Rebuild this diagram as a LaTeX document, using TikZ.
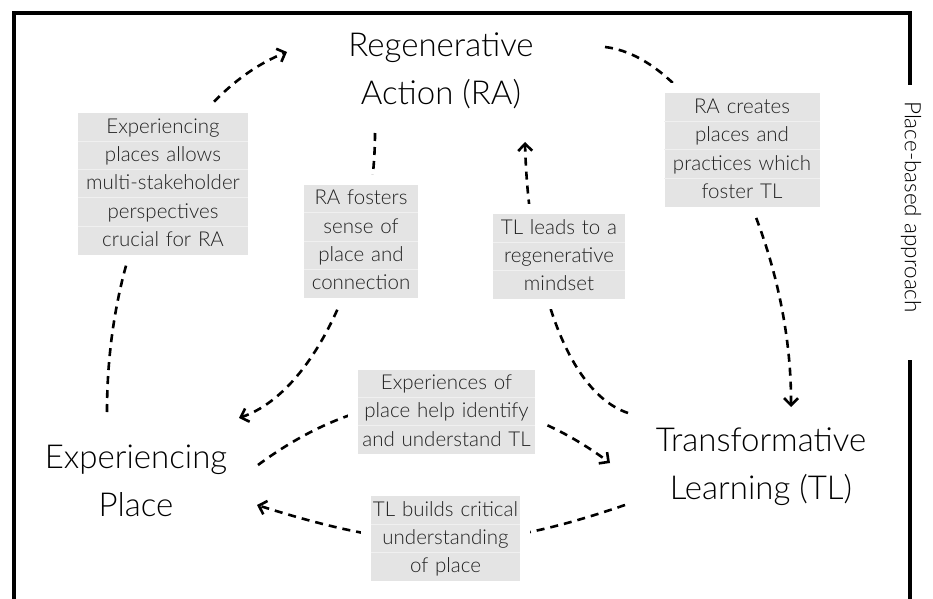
\documentclass[tikz,border=0pt]{standalone}
\usepackage{fontspec}
\setmainfont{Lato}
\newfontfamily\titlefont{Lato Light}
\usetikzlibrary{arrows.meta,calc}
\definecolor{boxfill}{HTML}{E4E4E4}
\definecolor{boxsep}{HTML}{F0F0F0}
\definecolor{boxtext}{HTML}{222222}
\newcommand{\rs}{\rule[-8.2bp]{0pt}{28.3bp}}
\begin{document}
\begin{tikzpicture}[x=1bp,y=-1bp,
  title/.style={font=\titlefont\fontsize{33bp}{48bp}\selectfont, align=center, inner sep=0pt, text=black},
  lbl/.style={fill=boxfill, text=boxtext, font=\titlefont\fontsize{20.5bp}{28.3bp}\selectfont, align=center, inner sep=0pt, preaction={draw=white, line width=20bp}},
  sepline/.style={draw=boxsep, line width=1bp},
  conn/.style={line width=2.6bp, dash pattern=on 8bp off 6bp, -{Straight Barb[length=7bp,width=14bp]}},
  frame/.style={line width=4bp},
]
\useasboundingbox (0,0) rectangle (933,599);
\fill[white] (0,0) rectangle (933,599);

% main concepts
\node[title] (RA) at (441,71) {Regenerative\\Action (RA)};
\node[title] (EP) at (136,481) {Experiencing\\Place};
\node[title] (TL) at (761,467) {Transformative\\Learning (TL)};

% connectors
\draw[conn] ($(EP)+(-29,-69)$) .. controls +(0,-180) and +(-100,40) .. ($(RA)+(-154,-19)$);
\draw[conn] ($(RA)+(164,-24)$) .. controls +(95,11) and +(1,-167) .. ($(TL)+(30,-60)$);
\draw[conn] ($(RA)+(-66,62)$) .. controls +(0,117) and +(81,-28) .. ($(EP)+(103,-63)$);
\draw[conn] ($(TL)+(-133,-54)$) .. controls +(-68,-23) and +(3,118) .. ($(RA)+(84,71)$);
\draw[conn] ($(EP)+(122,-16)$) .. controls +(142,-105) and +(-85,-63) .. ($(TL)+(-151,-4)$);
\draw[conn] ($(TL)+(-136,38)$) .. controls +(-140,48) and +(152,48) .. ($(EP)+(121,24)$);

% label boxes
\node[lbl, text width=170bp] (b1) at (163,184) {\rs Experiencing\\\rs places allows\\\rs multi-stakeholder\\\rs perspectives\\\rs crucial for RA};
\node[lbl, text width=114bp] (b2) at (361,241.5) {\rs RA fosters\\\rs sense of\\\rs place and\\\rs connection};
\node[lbl, text width=132bp] (b3) at (559,256.5) {\rs TL leads to a\\\rs regenerative\\\rs mindset};
\node[lbl, text width=155bp] (b4) at (742,150) {\rs RA creates\\\rs places and\\\rs practices which\\\rs foster TL};
\node[lbl, text width=177bp] (b5) at (446.5,412) {\rs Experiences of\\\rs place help identify\\\rs and understand TL};
\node[lbl, text width=149bp] (b6) at (445.5,538.5) {\rs TL builds critical\\\rs understanding\\\rs of place};

\foreach \k in {1,...,4} \draw[sepline] ($(b1.north west)+(0,{\k*28.3})$) -- ($(b1.north east)+(0,{\k*28.3})$);
\foreach \k in {1,...,3} \draw[sepline] ($(b2.north west)+(0,{\k*28.3})$) -- ($(b2.north east)+(0,{\k*28.3})$);
\foreach \k in {1,2} \draw[sepline] ($(b3.north west)+(0,{\k*28.3})$) -- ($(b3.north east)+(0,{\k*28.3})$);
\foreach \k in {1,...,3} \draw[sepline] ($(b4.north west)+(0,{\k*28.3})$) -- ($(b4.north east)+(0,{\k*28.3})$);
\foreach \k in {1,2} \draw[sepline] ($(b5.north west)+(0,{\k*28.3})$) -- ($(b5.north east)+(0,{\k*28.3})$);
\foreach \k in {1,2} \draw[sepline] ($(b6.north west)+(0,{\k*28.3})$) -- ($(b6.north east)+(0,{\k*28.3})$);

% frame
\node[rotate=-90, font=\titlefont\fontsize{22.5bp}{26bp}\selectfont, inner sep=0pt] (pba) at (911,207) {Place-based approach};
\draw[frame] (910,85) -- (910,13) -- (14,13) -- (14,601);
\draw[frame] (910,360) -- (910,601);
\end{tikzpicture}
\end{document}
